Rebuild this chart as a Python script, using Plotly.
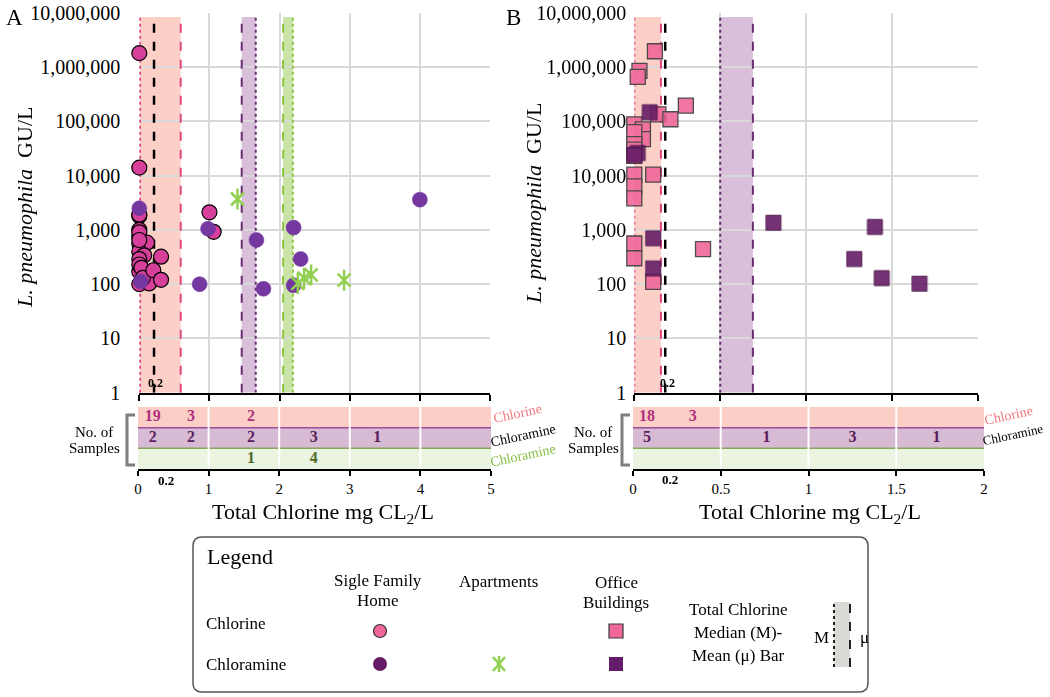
import plotly.graph_objects as go

W, H = 1050, 697
FONT = "Liberation Serif"
GRID = "#D9D9D9"


def px(x):
    return x / W


def py(y):
    return 1 - y / H


# ---- data ----
# panel A: single family homes (chlorine / chloramine) and apartments (chloramine)
sfh_cl_x = [0, 0, 0, 0, 0, 0, 0.11, 0, 0.07, 0, 0, 0, 0.14, 0, 0, 0, 0, 0.03, 0.05,
            0.2, 0.31, 0.31, 1.0, 1.06]
sfh_cl_y = [1800000, 14000, 1800, 1000, 750, 560, 580, 400, 340, 290, 170, 100, 103,
            1900, 900, 650, 230, 200, 130, 180, 320, 120, 2100, 920]
sfh_cm_x = [0, 0.02, 0.86, 0.98, 1.67, 1.77, 2.2, 2.3, 2.2, 4.0]
sfh_cm_y = [2500, 112, 100, 1050, 650, 82, 1100, 290, 95, 3600]
apt_x = [1.4, 2.26, 2.35, 2.45, 2.92]
apt_y = [3700, 103, 129, 148, 118]

# panel B: office buildings
off_cl_x = [0.12, 0.03, 0.02, 0.14, 0.30, 0.21, 0, 0.05, 0.05, 0, 0, 0, 0, 0, 0.11,
            0, 0, 0, 0, 0.11, 0.4]
off_cl_y = [1950000, 850000, 660000, 134000, 195000, 109000, 88000, 71000, 47000, 63000,
            38000, 30000, 23000, 10400, 10400, 6300, 3800, 560, 300, 110, 440]
off_cm_x = [0.09, 0.02, 0.0, 0.11, 0.11, 0.81, 1.40, 1.28, 1.44, 1.66]
off_cm_y = [147000, 26000, 24000, 700, 195, 1350, 1130, 290, 129, 102]

# median / mean bars (total chlorine)
a_cl_median, a_cl_mean = 0.01, 0.59
a_cm_median, a_cm_mean = 1.66, 1.46
a_apt_median, a_apt_mean = 2.19, 2.05
b_cl_median, b_cl_mean = 0.0, 0.155
b_cm_median, b_cm_mean = 0.5, 0.69
a_ref, b_ref = 0.21, 0.18
bar_bottom, bar_top = 1, 8.3e6

# number of samples strips
a_cl_pos, a_cl_n = [0.21, 0.75, 1.6], ["19", "3", "2"]
a_cm_pos, a_cm_n = [0.21, 0.75, 1.6, 2.49, 3.39], ["2", "2", "2", "3", "1"]
a_apt_pos, a_apt_n = [1.6, 2.49], ["1", "4"]
b_cl_pos, b_cl_n = [0.08, 0.34], ["18", "3"]
b_cm_pos, b_cm_n = [0.08, 0.76, 1.25, 1.73], ["5", "1", "3", "1"]

a_x_ticks = [0, 1, 2, 3, 4, 5]
b_x_ticks = [0, 0.5, 1, 1.5, 2]
y_ticks = [1, 10, 100, 1000, 10000, 100000, 1000000, 10000000]
y_tick_text = ["1", "10", "100", "1,000", "10,000", "100,000", "1,000,000", "10,000,000"]

# colours
C_SFH_CL = "#D6409B"
C_SFH_CM = "#7438A0"
C_APT = "#92D050"
C_OFF_CL = "#F0679A"
C_OFF_CM = "#641C66"
C_PINK_LINE = "#E0457F"
C_PURPLE_LINE = "#6A2C70"
C_GREEN_LINE = "#8CC63F"

fig = go.Figure()


def vline(xa, ya, v, color, dash, width=2):
    fig.add_trace(go.Scatter(x=[v, v], y=[bar_bottom, bar_top], mode="lines",
                             xaxis=xa, yaxis=ya, hoverinfo="skip",
                             line=dict(color=color, width=width, dash=dash)))


# median (dotted) and mean (dashed) edges of the bars, and the 0.2 reference line
vline("x", "y", a_cl_median, C_PINK_LINE, "dot")
vline("x", "y", a_cl_mean, C_PINK_LINE, "dash")
vline("x", "y", a_cm_median, C_PURPLE_LINE, "dot")
vline("x", "y", a_cm_mean, C_PURPLE_LINE, "dash")
vline("x", "y", a_apt_median, C_GREEN_LINE, "dot")
vline("x", "y", a_apt_mean, C_GREEN_LINE, "dash")
vline("x3", "y3", b_cl_median, C_PINK_LINE, "dot")
vline("x3", "y3", b_cl_mean, C_PINK_LINE, "dash")
vline("x3", "y3", b_cm_median, C_PURPLE_LINE, "dot")
vline("x3", "y3", b_cm_mean, C_PURPLE_LINE, "dash")
vline("x", "y", a_ref, "black", "dash", 2.5)
vline("x3", "y3", b_ref, "black", "dash", 2.5)

# panel A markers
fig.add_trace(go.Scatter(x=sfh_cl_x, y=sfh_cl_y, mode="markers", xaxis="x", yaxis="y",
                         cliponaxis=False,
                         marker=dict(symbol="circle", size=15, color=C_SFH_CL,
                                     line=dict(color="black", width=1.2))))
fig.add_trace(go.Scatter(x=sfh_cm_x, y=sfh_cm_y, mode="markers", xaxis="x", yaxis="y",
                         cliponaxis=False,
                         marker=dict(symbol="circle", size=15, color=C_SFH_CM,
                                     line=dict(color=C_SFH_CM, width=0.5))))
fig.add_trace(go.Scatter(x=apt_x, y=apt_y, mode="markers", xaxis="x", yaxis="y",
                         cliponaxis=False,
                         marker=dict(symbol="x-thin-open", size=13, color=C_APT,
                                     line=dict(color=C_APT, width=2.5))))
fig.add_trace(go.Scatter(x=apt_x, y=apt_y, mode="markers", xaxis="x", yaxis="y",
                         cliponaxis=False,
                         marker=dict(symbol="line-ns-open", size=15, color=C_APT,
                                     line=dict(color=C_APT, width=2.5))))

# panel B markers
fig.add_trace(go.Scatter(x=off_cl_x, y=off_cl_y, mode="markers", xaxis="x3", yaxis="y3",
                         cliponaxis=False, opacity=0.9,
                         marker=dict(symbol="square", size=15, color=C_OFF_CL,
                                     line=dict(color="#3A3A3A", width=1.3))))
fig.add_trace(go.Scatter(x=off_cm_x, y=off_cm_y, mode="markers", xaxis="x3", yaxis="y3",
                         cliponaxis=False, opacity=0.9,
                         marker=dict(symbol="square", size=15, color=C_OFF_CM,
                                     line=dict(color="#4A1048", width=1))))

# counts in the strips
cnt_font = dict(family=FONT, size=16, weight="bold")
for xa, ya, pos, labels, row, col in [
    ("x2", "y2", a_cl_pos, a_cl_n, 2.5, "#B0307E"),
    ("x2", "y2", a_cm_pos, a_cm_n, 1.5, "#5B1E5E"),
    ("x2", "y2", a_apt_pos, a_apt_n, 0.5, "#4F6B2A"),
    ("x4", "y4", b_cl_pos, b_cl_n, 2.5, "#B0307E"),
    ("x4", "y4", b_cm_pos, b_cm_n, 1.5, "#5B1E5E"),
]:
    fig.add_trace(go.Scatter(x=pos, y=[row] * len(pos), text=labels, mode="text",
                             xaxis=xa, yaxis=ya, hoverinfo="skip",
                             textfont=dict(cnt_font, color=col)))

shapes = []


def band(xref, yref, x0, x1, fill):
    shapes.append(dict(type="rect", xref=xref, yref=yref, x0=x0, x1=x1,
                       y0=bar_bottom, y1=bar_top, fillcolor=fill,
                       line=dict(width=0), layer="below"))


band("x", "y", a_cl_median, a_cl_mean, "rgba(251,192,180,0.75)")
band("x", "y", a_cm_mean, a_cm_median, "rgba(204,170,204,0.75)")
band("x", "y", a_apt_mean, a_apt_median, "rgba(183,219,136,0.75)")
band("x3", "y3", b_cl_median, b_cl_mean, "rgba(251,192,180,0.75)")
band("x3", "y3", b_cm_median, b_cm_mean, "rgba(204,170,204,0.75)")

# strip rows
for xr, yr, ticks in [("x2", "y2", a_x_ticks), ("x4", "y4", b_x_ticks)]:
    for r0, r1, col in [(2, 3, "#FBCFC6"), (1, 2, "#D7BAD4"), (0, 1, "#EBF4E0")]:
        shapes.append(dict(type="rect", xref=xr + " domain", yref=yr, x0=0, x1=1,
                           y0=r0, y1=r1, fillcolor=col, line=dict(width=0), layer="below"))
    for t in ticks[1:-1]:
        shapes.append(dict(type="line", xref=xr, yref=yr, x0=t, x1=t, y0=0, y1=3,
                           line=dict(color="white", width=2), layer="below"))
    shapes.append(dict(type="line", xref=xr + " domain", yref=yr, x0=0, x1=1, y0=2, y1=2,
                       line=dict(color="#9A4E9A", width=1.5), layer="below"))
    shapes.append(dict(type="line", xref=xr + " domain", yref=yr, x0=0, x1=1, y0=1, y1=1,
                       line=dict(color="#86A85A", width=1.5), layer="below"))

# brackets of "No. of Samples"
for bx in [127, 622]:
    shapes.append(dict(type="path", xref="paper", yref="paper",
                       path=f"M {px(bx + 8)},{py(415)} L {px(bx)},{py(415)} "
                            f"L {px(bx)},{py(465)} L {px(bx + 8)},{py(465)}",
                       line=dict(color="#7F7F7F", width=3)))


# legend box
def rounded_rect(x0, y0, x1, y1, r):
    return (f"M {px(x0 + r)},{py(y0)} L {px(x1 - r)},{py(y0)} "
            f"Q {px(x1)},{py(y0)} {px(x1)},{py(y0 + r)} L {px(x1)},{py(y1 - r)} "
            f"Q {px(x1)},{py(y1)} {px(x1 - r)},{py(y1)} L {px(x0 + r)},{py(y1)} "
            f"Q {px(x0)},{py(y1)} {px(x0)},{py(y1 - r)} L {px(x0)},{py(y0 + r)} "
            f"Q {px(x0)},{py(y0)} {px(x0 + r)},{py(y0)} Z")


shapes.append(dict(type="path", xref="paper", yref="paper",
                   path=rounded_rect(193, 537, 868, 692, 9),
                   line=dict(color="#555555", width=1.5)))

# legend symbols
shapes.append(dict(type="circle", xref="paper", yref="paper", x0=px(373.5), x1=px(386.5),
                   y0=py(637.5), y1=py(624.5), fillcolor=C_OFF_CL,
                   line=dict(color="#333333", width=1.2)))
shapes.append(dict(type="circle", xref="paper", yref="paper", x0=px(373), x1=px(387),
                   y0=py(671), y1=py(657), fillcolor=C_OFF_CM, line=dict(width=0)))
for (xa, ya, xb, yb) in [(493, 657, 505, 671), (505, 657, 493, 671), (499, 656, 499, 672)]:
    shapes.append(dict(type="line", xref="paper", yref="paper", x0=px(xa), y0=py(ya),
                       x1=px(xb), y1=py(yb), line=dict(color=C_APT, width=2.5)))
shapes.append(dict(type="rect", xref="paper", yref="paper", x0=px(609), x1=px(623),
                   y0=py(638), y1=py(624), fillcolor=C_OFF_CL,
                   line=dict(color="#3A3A3A", width=1.2)))
shapes.append(dict(type="rect", xref="paper", yref="paper", x0=px(609), x1=px(623),
                   y0=py(671), y1=py(657), fillcolor=C_OFF_CM, line=dict(width=0)))
shapes.append(dict(type="rect", xref="paper", yref="paper", x0=px(834), x1=px(850),
                   y0=py(667), y1=py(602), fillcolor="#D9D9D6", line=dict(width=0)))
shapes.append(dict(type="line", xref="paper", yref="paper", x0=px(834), x1=px(834),
                   y0=py(667), y1=py(602), line=dict(color="#222222", width=2, dash="dot")))
shapes.append(dict(type="line", xref="paper", yref="paper", x0=px(850), x1=px(850),
                   y0=py(667), y1=py(602), line=dict(color="#222222", width=2, dash="dash")))

annotations = []


def note(x, y, text, size=17, color="black", xanchor="center", angle=0):
    annotations.append(dict(x=px(x), y=py(y), xref="paper", yref="paper", text=text,
                            showarrow=False, xanchor=xanchor, yanchor="middle",
                            textangle=angle,
                            font=dict(family=FONT, size=size, color=color)))


note(14, 17, "A", size=23)
note(513, 17, "B", size=23)
note(25, 208, "<i>L. pneumophila</i>  GU/L", size=22, angle=-90)
note(533, 204, "<i>L. pneumophila</i>  GU/L", size=22, angle=-90)
note(323, 513, "Total Chlorine mg CL<sub>2</sub>/L", size=22)
note(810, 513, "Total Chlorine mg CL<sub>2</sub>/L", size=22)
note(155, 383, "<b>0.2</b>", size=12)
note(667, 383, "<b>0.2</b>", size=12)
note(166, 480, "<b>0.2</b>", size=13)
note(670, 479, "<b>0.2</b>", size=13)
for cx in [94, 593]:
    note(cx, 432, "No. of", size=15)
    note(cx, 448, "Samples", size=15)
note(517, 413, "Chlorine", size=14, color="#F07A7E", angle=-12)
note(523, 435, "Chloramine", size=14, color="black", angle=-12)
note(523, 456, "Chloramine", size=14, color="#86BD45", angle=-12)
note(1008, 415, "Chlorine", size=14, color="#F07A7E", angle=-12)
note(1013, 434, "Chloramine", size=13, color="black", angle=-12)

# legend text
note(205, 556, "Legend", size=22, xanchor="left")
note(378, 580, "Sigle Family")
note(378, 600, "Home")
note(498, 581, "Apartments")
note(616, 582, "Office")
note(616, 602, "Buildings")
note(204, 623, "Chlorine", xanchor="left")
note(204, 664, "Chloramine", xanchor="left")
note(738, 609, "Total Chlorine")
note(738, 632, "Median (M)-")
note(738, 655, "Mean (μ) Bar")
note(821, 637, "M")
note(864, 637, "μ")

main_x = dict(showgrid=True, gridcolor=GRID, gridwidth=1.5, zeroline=False, showline=True,
              linecolor="black", linewidth=2, ticks="outside", ticklen=6, tickwidth=2,
              tickcolor="black", showticklabels=False, automargin=False)
main_y = dict(type="log", range=[0, 7], tickvals=y_ticks, ticktext=y_tick_text,
              showgrid=True, gridcolor=GRID, gridwidth=1.5, zeroline=False, showline=False,
              ticks="", ticklabeloverflow="allow", automargin=False,
              tickfont=dict(family=FONT, size=20, color="black"))
strip_x = dict(showgrid=False, zeroline=False, showline=True, automargin=False,
               linecolor="black", linewidth=2, ticks="outside", ticklen=5, tickwidth=2,
               tickcolor="black", tickfont=dict(family=FONT, size=15, color="black"))
strip_y = dict(range=[0, 3], visible=False, automargin=False)

fig.update_layout(
    width=W, height=H,
    margin=dict(l=0, r=0, t=0, b=0, autoexpand=False),
    paper_bgcolor="white", plot_bgcolor="white",
    showlegend=False,
    xaxis=dict(main_x, domain=[px(139.3), px(490)], range=[0, 5], tickvals=a_x_ticks,
               anchor="y"),
    yaxis=dict(main_y, domain=[py(392.7), py(12.7)], anchor="x", ticklabelstandoff=18),
    xaxis2=dict(strip_x, domain=[px(138), px(491)], range=[0, 5], tickvals=a_x_ticks,
                anchor="y2"),
    yaxis2=dict(strip_y, domain=[py(469), py(407)], anchor="x2"),
    xaxis3=dict(main_x, domain=[px(634.3), px(978)], range=[0, 2], tickvals=b_x_ticks,
                anchor="y3"),
    yaxis3=dict(main_y, domain=[py(392.7), py(12.7)], anchor="x3", ticklabelstandoff=7),
    xaxis4=dict(strip_x, domain=[px(633), px(984)], range=[0, 2], tickvals=b_x_ticks,
                anchor="y4"),
    yaxis4=dict(strip_y, domain=[py(469), py(407)], anchor="x4"),
    shapes=shapes,
    annotations=annotations,
)

# pin the fixed-size figure to the top-left corner of the window
pin = ("var gd = document.getElementById('{plot_id}');"
       "gd.style.position = 'fixed'; gd.style.left = '0px'; gd.style.top = '0px';"
       "document.body.style.margin = '0px';"
       "document.body.style.overflow = 'hidden';"
       "document.documentElement.style.overflow = 'hidden';")
fig.write_html("out.html", post_script=pin, config={"displayModeBar": False})
